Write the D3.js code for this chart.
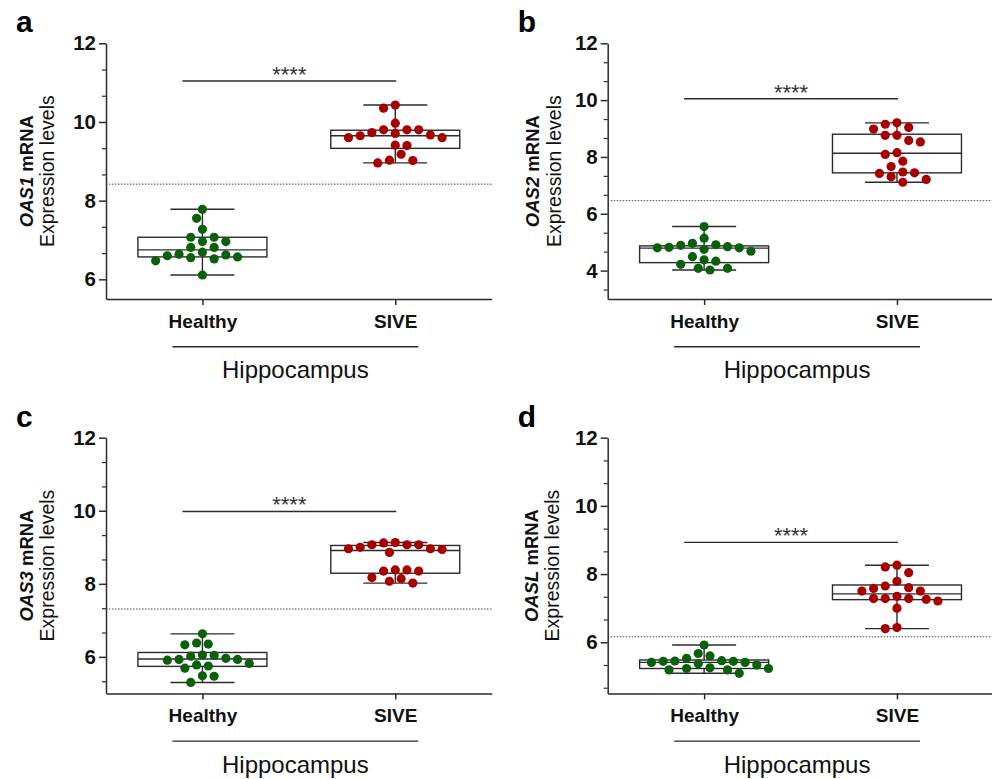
<!DOCTYPE html>
<html>
<head>
<meta charset="utf-8">
<script src="https://cdn.jsdelivr.net/npm/d3@7"></script>
<style>
  html, body { margin: 0; padding: 0; background: #fff; }
  svg { display: block; font-family: "Liberation Sans", Arial, sans-serif; }
</style>
</head>
<body>
<svg id="chart" width="992" height="779"></svg>
<script>
// ---------------- DATA ----------------
const categories = ["Healthy", "SIVE"];
const panelLetters = ["a", "b", "c", "d"];
const genes = ["OAS1", "OAS2", "OAS3", "OASL"];
const regionLabel = "Hippocampus";
const yLabelSecond = "Expression levels";
const yDomains = [[5.5, 12], [3, 12], [5, 12], [4.5, 12]];
const majorTicks = [[6, 8, 10, 12], [4, 6, 8, 10, 12], [6, 8, 10, 12], [6, 8, 10, 12]];

const healthyValues = [
  [7.78, 7.55, 7.27, 7.07, 7.07, 6.96, 6.96, 6.81, 6.81, 6.69, 6.62, 6.57, 6.52, 6.47, 6.55, 6.60, 6.64, 6.11],
  [5.55, 5.14, 4.89, 4.82, 4.80, 4.91, 4.96, 4.68, 4.75, 4.80, 4.84, 4.33, 4.49, 4.38, 4.22, 4.08, 4.02, 4.08],
  [6.63, 6.33, 6.38, 6.35, 5.96, 5.93, 5.82, 5.75, 6.04, 6.05, 5.69, 5.78, 5.91, 5.93, 6.02, 5.48, 5.47, 5.30],
  [5.92, 5.60, 5.67, 5.41, 5.33, 5.46, 5.44, 5.44, 5.45, 5.53, 5.37, 5.41, 5.23, 5.19, 5.09, 5.19, 5.23, 5.25]
];
const siveValues = [
  [10.43, 10.35, 9.97, 9.80, 9.80, 9.80, 9.67, 9.71, 9.73, 9.60, 9.60, 9.65, 9.41, 9.40, 9.18, 9.03, 8.96, 9.02],
  [9.15, 9.20, 8.98, 9.04, 8.76, 8.76, 8.58, 8.53, 8.09, 8.15, 7.85, 7.66, 7.44, 7.47, 7.30, 7.42, 7.11, 7.21],
  [9.12, 9.07, 9.00, 8.96, 8.86, 8.94, 8.96, 9.07, 9.07, 9.13, 8.38, 8.35, 8.35, 8.38, 8.14, 8.17, 8.02, 8.07],
  [8.21, 8.26, 8.04, 7.79, 7.60, 7.50, 7.50, 7.58, 7.65, 7.35, 7.28, 7.28, 7.21, 7.26, 7.28, 7.00, 6.40, 6.43]
];
// [Q1, median, Q3]
const healthyBox = [[6.57, 6.75, 7.07], [4.28, 4.79, 4.87], [5.74, 5.94, 6.12], [5.23, 5.41, 5.48]];
const siveBox = [[9.33, 9.65, 9.79], [7.44, 8.13, 8.80], [8.29, 8.91, 9.05], [7.25, 7.42, 7.68]];
const cutoffs = [8.42, 6.46, 7.31, 6.16];
const sigLevels = [11.04, 10.05, 9.98, 8.93];
const sigLabels = ["****", "****", "****", "****"];

// ---------------- LAYOUT ----------------
const svg = d3.select("#chart");
const panelPos = [
  { ax: 106, top: 43.3 }, { ax: 607.7, top: 43.3 },
  { ax: 106, top: 437.7 }, { ax: 607.7, top: 437.7 }
];
const plotW = 385.7, plotH = 255.7;
const geneLabelDx = [-73, -68.5, -73, -70];
const exprLabelDx = [-52, -46.5, -52, -48.5];
const ink = "#2b2b2b";
const colors = { Healthy: "#0b610b", SIVE: "#a80000" };
const dotR = 4.6;

function swarm(values, yScale, slot, D) {
  const idx = values.map((v, i) => i).sort((a, b) => values[b] - values[a]);
  const placed = [];
  const offs = new Array(values.length).fill(0);
  let sum = 0;
  for (const i of idx) {
    const py = yScale(values[i]);
    for (let k = 0; k < 60; k++) {
      const signs = k === 0 ? [0] : (sum >= 0 ? [-1, 1] : [1, -1]);
      let found = null;
      for (const s of signs) {
        const px = s * k * slot;
        if (placed.every(p => Math.hypot(p.x - px, p.y - py) >= D)) { found = px; break; }
      }
      if (found !== null) {
        offs[i] = found; placed.push({ x: found, y: py }); sum += found; break;
      }
    }
  }
  return offs;
}

panelPos.forEach((pp, pi) => {
  const g = svg.append("g");
  const bottom = pp.top + plotH;
  const y = d3.scaleLinear().domain(yDomains[pi]).range([bottom, pp.top]);
  const x = d3.scalePoint().domain(categories).range([pp.ax, pp.ax + plotW]).padding(0.5);

  // minor ticks (every 2/3 unit from top)
  const [d0, d1] = yDomains[pi];
  const minor = d3.range(0, Math.floor((d1 - d0) / (2 / 3) + 1e-6) + 1).map(k => d1 - k * 2 / 3)
    .filter(v => !majorTicks[pi].some(m => Math.abs(m - v) < 1e-6));
  const minorAxis = g.append("g").attr("transform", `translate(${pp.ax},0)`)
    .call(d3.axisLeft(y).tickValues(minor).tickSize(4).tickSizeOuter(0).tickFormat(""));
  minorAxis.select(".domain").remove();
  minorAxis.selectAll("line").attr("stroke", ink).attr("stroke-width", 1.2);

  const yAxis = g.append("g").attr("transform", `translate(${pp.ax},0)`)
    .call(d3.axisLeft(y).tickValues(majorTicks[pi]).tickSize(7).tickSizeOuter(0).tickPadding(3)
      .tickFormat(d3.format("d")));
  yAxis.select(".domain").attr("stroke", ink).attr("stroke-width", 1.5);
  yAxis.selectAll("line").attr("stroke", ink).attr("stroke-width", 1.5);
  yAxis.selectAll("text").attr("font-size", 20.5).attr("font-weight", "bold").attr("fill", "#111")
    .attr("font-family", "Liberation Sans, Arial, sans-serif");

  const xAxis = g.append("g").attr("transform", `translate(0,${bottom})`)
    .call(d3.axisBottom(x).tickSize(6).tickSizeOuter(0));
  xAxis.select(".domain").attr("stroke", ink).attr("stroke-width", 1.5);
  xAxis.selectAll("line").attr("stroke", ink).attr("stroke-width", 1.5);
  xAxis.selectAll("text").attr("font-size", 19).attr("font-weight", "bold").attr("fill", "#111")
    .attr("font-family", "Liberation Sans, Arial, sans-serif")
    .attr("dy", null).attr("y", 28.5);

  // cutoff dotted line
  g.append("line")
    .attr("x1", pp.ax).attr("x2", pp.ax + plotW)
    .attr("y1", y(cutoffs[pi])).attr("y2", y(cutoffs[pi]))
    .attr("stroke", "#444").attr("stroke-width", 1).attr("stroke-dasharray", "1.5,1.5");

  // boxes
  const groups = [
    { cat: "Healthy", vals: healthyValues[pi], box: healthyBox[pi] },
    { cat: "SIVE", vals: siveValues[pi], box: siveBox[pi] }
  ];
  const boxW = 129, capW = 64;
  groups.forEach(gr => {
    const cx = x(gr.cat);
    const [mn, mx] = d3.extent(gr.vals);
    const [q1, med, q3] = gr.box;
    const bg = g.append("g").attr("stroke", ink).attr("stroke-width", 1.4).attr("fill", "none");
    bg.append("line").attr("x1", cx).attr("x2", cx).attr("y1", y(mx)).attr("y2", y(q3));
    bg.append("line").attr("x1", cx).attr("x2", cx).attr("y1", y(q1)).attr("y2", y(mn));
    bg.append("line").attr("x1", cx - capW / 2).attr("x2", cx + capW / 2).attr("y1", y(mx)).attr("y2", y(mx));
    bg.append("line").attr("x1", cx - capW / 2).attr("x2", cx + capW / 2).attr("y1", y(mn)).attr("y2", y(mn));
    bg.append("rect").attr("x", cx - boxW / 2).attr("width", boxW)
      .attr("y", y(q3)).attr("height", y(q1) - y(q3));
    bg.append("line").attr("x1", cx - boxW / 2).attr("x2", cx + boxW / 2).attr("y1", y(med)).attr("y2", y(med));

    const offs = swarm(gr.vals, y, 5.85, 10);
    g.append("g").selectAll("circle").data(gr.vals).join("circle")
      .attr("cx", (d, i) => cx + offs[i]).attr("cy", d => y(d)).attr("r", dotR)
      .attr("fill", colors[gr.cat]);
  });

  // significance
  const sx1 = x("Healthy") - 20, sx2 = x("SIVE") + 1, sy = y(sigLevels[pi]);
  g.append("line").attr("x1", sx1).attr("x2", sx2).attr("y1", sy).attr("y2", sy)
    .attr("stroke", ink).attr("stroke-width", 1.4);
  g.append("text").attr("x", (sx1 + sx2) / 2).attr("y", sy + 1).attr("text-anchor", "middle")
    .attr("font-size", 22).attr("fill", "#333").text(sigLabels[pi]);

  // region bracket
  const bx1 = x("Healthy") - 30, bx2 = x("SIVE") + 23, by = bottom + 47.7;
  g.append("line").attr("x1", bx1).attr("x2", bx2).attr("y1", by).attr("y2", by)
    .attr("stroke", ink).attr("stroke-width", 1.4);
  g.append("text").attr("x", (bx1 + bx2) / 2).attr("y", bottom + 79.3).attr("text-anchor", "middle")
    .attr("font-size", 24).attr("fill", "#111").text(regionLabel);

  // y labels
  const cy = (pp.top + bottom) / 2;
  const gl = g.append("text")
    .attr("transform", `translate(${pp.ax + geneLabelDx[pi]},${cy}) rotate(-90)`)
    .attr("text-anchor", "middle").attr("font-size", 18.5).attr("font-weight", "bold").attr("fill", "#111");
  gl.append("tspan").attr("font-style", "italic").text(genes[pi]);
  gl.append("tspan").text(" mRNA");
  g.append("text")
    .attr("transform", `translate(${pp.ax + exprLabelDx[pi]},${cy}) rotate(-90)`)
    .attr("text-anchor", "middle").attr("font-size", 19.5).attr("fill", "#111").text(yLabelSecond);

  // panel letter
  g.append("text").attr("x", pp.ax - 90).attr("y", pp.top - 11)
    .attr("font-size", 30).attr("font-weight", "bold").attr("fill", "#000").text(panelLetters[pi]);
});
</script>
</body>
</html>
